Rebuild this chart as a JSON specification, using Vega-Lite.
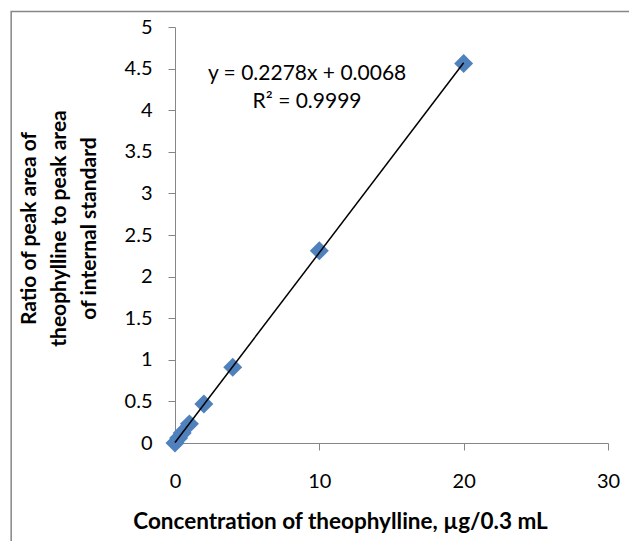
{
  "$schema": "https://vega.github.io/schema/vega-lite/v6.json",
  "width": 433,
  "height": 416,
  "autosize": {"type": "none"},
  "padding": {"left": 175, "top": 27, "right": 21, "bottom": 98},
  "background": "white",
  "config": {
    "view": {"stroke": null},
    "font": "Lato",
    "axis": {
      "grid": false,
      "domainColor": "#868686",
      "tickColor": "#868686",
      "tickSize": 7,
      "labelFlush": false,
      "labelColor": "#000000",
      "labelFont": "Lato",
      "labelFontSize": 20,
      "titleFont": "Lato",
      "titleFontWeight": "bold",
      "titleColor": "#000000"
    }
  },
  "data": {
    "values": [
      {"conc": 0, "ratio": 0.0},
      {"conc": 0.25, "ratio": 0.06},
      {"conc": 0.5, "ratio": 0.12},
      {"conc": 1, "ratio": 0.23},
      {"conc": 2, "ratio": 0.47},
      {"conc": 4, "ratio": 0.91},
      {"conc": 10, "ratio": 2.31},
      {"conc": 20, "ratio": 4.56}
    ]
  },
  "layer": [
    {
      "data": {"values": [{}]},
      "mark": {"type": "rect", "fill": null, "stroke": "#868686", "strokeWidth": 1.5, "clip": false},
      "encoding": {
        "x": {"datum": -11.35, "type": "quantitative"},
        "x2": {"datum": 35},
        "y": {"datum": 5.185, "type": "quantitative"},
        "y2": {"datum": -2}
      }
    },
    {
      "mark": {"type": "point", "shape": "diamond", "filled": true, "size": 360, "color": "#4F81BD", "opacity": 1},
      "encoding": {
        "x": {
          "field": "conc", "type": "quantitative",
          "scale": {"domain": [0, 30], "nice": false, "zero": false},
          "axis": {
            "values": [0, 10, 20, 30],
            "title": "Concentration of theophylline, µg/0.3 mL",
            "titleFontSize": 22.5,
            "labelPadding": 21,
            "titleX": 165,
            "titleY": 78,
            "titleAlign": "center",
            "titleBaseline": "middle"
          }
        },
        "y": {
          "field": "ratio", "type": "quantitative",
          "scale": {"domain": [0, 5], "nice": false, "zero": false},
          "axis": {
            "values": [0, 0.5, 1, 1.5, 2, 2.5, 3, 3.5, 4, 4.5, 5],
            "labelExpr": "'' + datum.value",
            "labelPadding": 16,
            "title": ["Ratio of peak area of", "theophylline to peak area", "of internal standard"],
            "titleFontSize": 21,
            "titleAngle": -90,
            "titleX": -146,
            "titleY": 201,
            "titleAlign": "center",
            "titleBaseline": "middle",
            "titleLineHeight": 30
          }
        }
      }
    },
    {
      "transform": [{"regression": "ratio", "on": "conc", "extent": [0, 20]}],
      "mark": {"type": "line", "color": "#000000", "strokeWidth": 1.5},
      "encoding": {
        "x": {"field": "conc", "type": "quantitative"},
        "y": {"field": "ratio", "type": "quantitative"}
      }
    },
    {
      "data": {"values": [{}]},
      "mark": {"type": "text", "fontSize": 21, "font": "Lato", "fontWeight": "normal", "color": "#000000", "align": "center", "baseline": "middle", "lineHeight": 28},
      "encoding": {
        "x": {"datum": 9.15, "type": "quantitative"},
        "y": {"datum": 4.43, "type": "quantitative"},
        "text": {"value": ["y = 0.2278x + 0.0068", "R² = 0.9999"]}
      }
    }
  ]
}
